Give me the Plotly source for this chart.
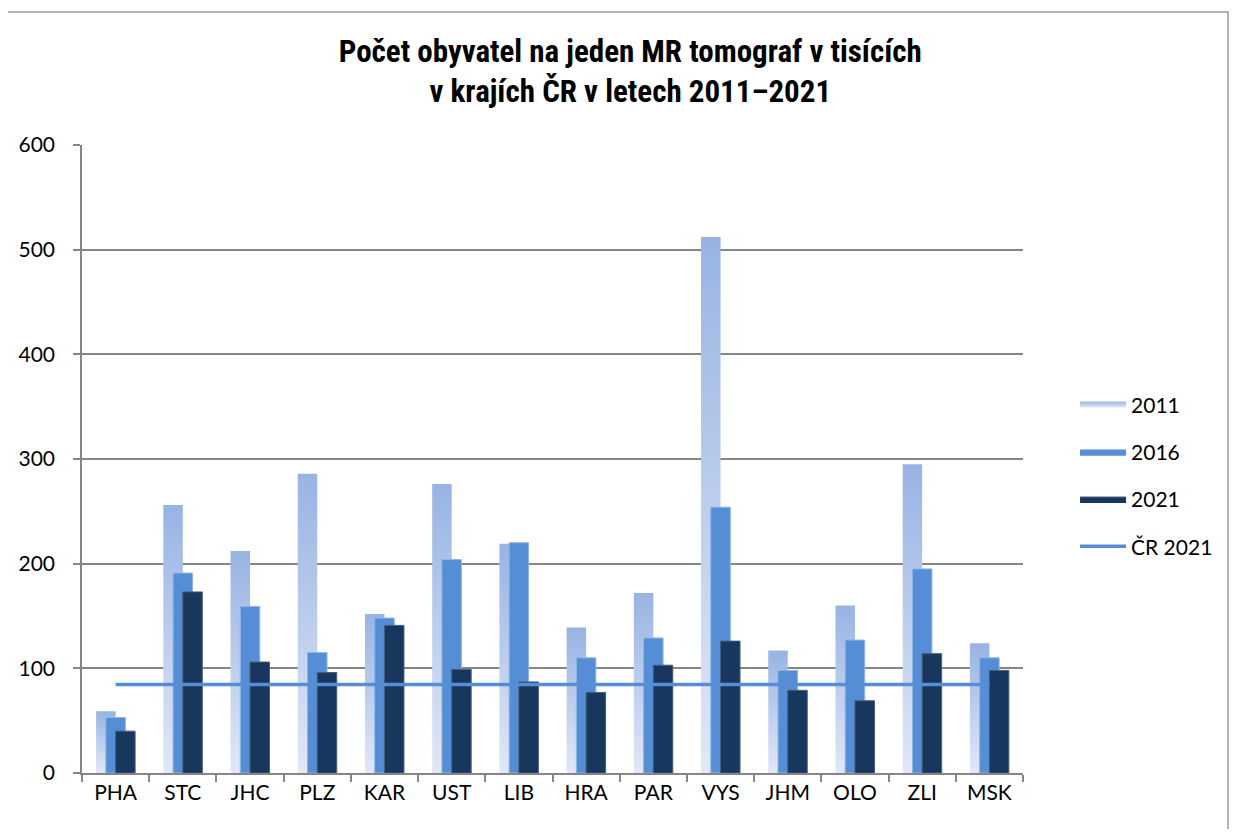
import plotly.graph_objects as go

regions = ["PHA", "STC", "JHC", "PLZ", "KAR", "UST", "LIB", "HRA", "PAR", "VYS", "JHM", "OLO", "ZLI", "MSK"]
y2011 = [59, 256, 212, 286, 152, 276, 219, 139, 172, 512, 117, 160, 295, 124]
y2016 = [53, 191, 159, 115, 148, 204, 220, 110, 129, 254, 98, 127, 195, 110]
y2021 = [40, 173, 106, 96, 141, 99, 87, 77, 103, 126, 79, 69, 114, 98]
cr2021 = [84.5] * len(regions)
y_ticks = [0, 100, 200, 300, 400, 500, 600]

W = 0.29
OFF = [-0.29, -0.145, 0.0]
xs = list(range(len(regions)))

TICK_FONT = dict(family="Lato, Liberation Sans, Arial", size=21, color="#000000")
LEG_FONT = dict(family="Lato, Liberation Sans, Arial", size=21, color="#000000")


def bar_outline(values, off):
    """Closed rectangles (separated by gaps) for bars drawn on the x axis scale."""
    bx, by = [], []
    for i, v in enumerate(values):
        x0 = i + off
        x1 = x0 + W
        bx += [x0, x0, x1, x1, x0, None]
        by += [0, v, v, 0, 0, None]
    return bx, by


fig = go.Figure()

# 2011 bars: each with its own vertical gradient
for i, v in enumerate(y2011):
    bx, by = bar_outline([v], 0)
    bx = [None if b is None else b + i + OFF[0] for b in bx]
    fig.add_trace(go.Scatter(
        x=bx, y=by, mode="none", fill="toself",
        fillgradient=dict(type="vertical",
                          colorscale=[[0, "#E1E8F6"], [1, "#98B3E3"]],
                          start=0, stop=v),
        name="2011", legendgroup="g2011", showlegend=(i == 0),
        hoverinfo="skip",
    ))

bx, by = bar_outline(y2016, OFF[1])
fig.add_trace(go.Scatter(
    x=bx, y=by, mode="lines", fill="toself", name="2016",
    fillcolor="#558ED5", line=dict(color="#8DB4E6", width=1),
    legendgroup="g2016", hoverinfo="skip",
))
bx, by = bar_outline(y2021, OFF[2])
fig.add_trace(go.Scatter(
    x=bx, y=by, mode="lines", fill="toself", name="2021",
    fillcolor="#17375E", line=dict(color="#4A5D78", width=1),
    legendgroup="g2021", hoverinfo="skip",
))
fig.add_trace(go.Scatter(
    x=xs, y=cr2021, mode="lines", name="ČR 2021",
    line=dict(color="#558ED5", width=3.5),
    legendgroup="gcr",
))

# outer chart frame
fig.add_shape(type="rect", xref="paper", yref="paper",
              x0=-0.0818, x1=1.2179, y0=-0.3, y1=1.2118,
              line=dict(color="#9A9A9A", width=1.5), fillcolor="rgba(0,0,0,0)", layer="below")

fig.update_layout(
    width=1225, height=821,
    margin=dict(l=74, r=210, t=137, b=56),
    paper_bgcolor="white", plot_bgcolor="white",
    title=dict(
        text="Počet obyvatel na jeden MR tomograf v tisících<br>v krajích ČR v letech 2011–2021",
        x=0.508, xanchor="center", y=0.934, yanchor="middle",
        font=dict(family="Liberation Sans Narrow, Arial Narrow, Roboto Condensed, Liberation Sans",
                  size=31, color="#000000", weight="bold"),
    ),
    legend=dict(x=1.0553, y=0.619, xanchor="left", yanchor="top",
                font=LEG_FONT, traceorder="grouped", tracegroupgap=17,
                itemwidth=46, bgcolor="rgba(0,0,0,0)"),
    showlegend=True,
)

fig.update_xaxes(
    range=[-0.5, len(regions) - 0.5],
    tickmode="array", tickvals=xs, ticktext=regions,
    ticks="", showgrid=False, zeroline=False,
    showline=True, linecolor="#868686", linewidth=1.5,
    tickfont=TICK_FONT,
    minor=dict(tickmode="array", tickvals=[k - 0.5 for k in range(len(regions) + 1)],
               ticks="outside", ticklen=7, tickcolor="#868686", tickwidth=1.5, showgrid=False),
)
fig.update_yaxes(
    range=[0, 600], tickmode="array", tickvals=y_ticks,
    ticks="outside", ticklen=7, tickcolor="#868686", tickwidth=1.5,
    showgrid=True, gridcolor="#868686", gridwidth=1.5, zeroline=False,
    showline=True, linecolor="#868686", linewidth=1.5,
    tickfont=TICK_FONT,
    ticklabelstandoff=14,
)

fig.write_html("out.html")
